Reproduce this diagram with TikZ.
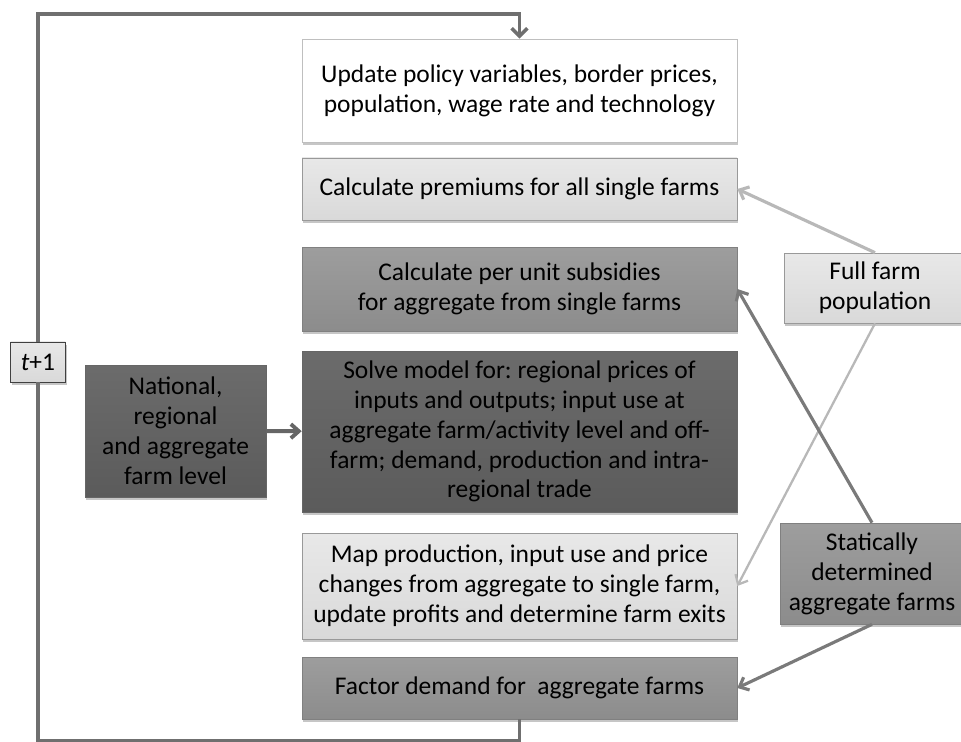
\documentclass[tikz,border=0pt]{standalone}
\usepackage{fontspec}
\setmainfont{Carlito}
\usepackage {tikz}
\usetikzlibrary {arrows.meta,shadows}
\frenchspacing

\definecolor{palegrey}{HTML}{D9D9D9}
\definecolor{midgrey}{HTML}{8C8C8C}
\definecolor{deepgrey}{HTML}{5B5B5B}
\definecolor{loopgrey}{HTML}{6F6F6F}
\definecolor{thingrey}{HTML}{B8B8B8}

\begin{document}
\begin{tikzpicture}[x=0.02cm ,y=-0.02cm ,
    font=\fontsize{14.5}{17}\selectfont ,
    stage/.style ={ rectangle ,draw=black!40 ,align=center ,inner sep=0pt ,
      minimum width =8.7cm ,
      drop shadow={shadow xshift=0.8pt ,shadow yshift=-1.8pt ,opacity=.45}},
    pale/.style ={ top color=palegrey!60!white ,bottom color=palegrey},
    mid/.style ={ top color=midgrey!85!white ,bottom color=midgrey ,draw=black!50},
    deep/.style ={ top color=deepgrey!90!white ,bottom color=deepgrey ,draw=black!60},
    flow/.style ={ line width=1.8pt ,-{Straight Barb[length=4.5pt,width=8pt]}},
    feedback/.style ={ loopgrey ,line width=2pt}
    ]

\useasboundingbox (0,0) rectangle (961,742);

% main sequence of steps
\node[stage ,fill=white ,draw=black!25 ,minimum height=2.06cm] (U) at (519.5,90.5)
  {Update policy variables, border prices,\\ population, wage rate and technology};
\node[stage ,pale ,minimum height=1.24cm] (P) at (519.5,189)
  {Calculate premiums for all single farms};
\node[stage ,mid ,minimum height=1.68cm] (S) at (519.5,289)
  {Calculate per unit subsidies\\ for aggregate from single farms};
\node[stage ,deep ,minimum height=3.22cm] (M) at (519.5,431.5)
  {Solve model for: regional prices of\\ inputs and outputs; input use at\\
   aggregate farm/activity level and off-\\ farm; demand, production and intra-\\
   regional trade};
\node[stage ,pale ,minimum height=2.12cm] (R) at (519.5,586)
  {Map production, input use and price\\ changes from aggregate to single farm,\\
   update profits and determine farm exits};
\node[stage ,mid ,minimum height=1.24cm] (F) at (519.5,688)
  {Factor demand for \ aggregate farms};

% side boxes
\node[stage ,deep ,minimum width=3.62cm ,minimum height=2.64cm] (N) at (175.5,431)
  {National,\\ regional\\ and aggregate\\ farm level};
\node[stage ,pale ,minimum width=3.64cm ,minimum height=1.4cm] (A) at (875,288)
  {Full farm\\ population};
\node[stage ,mid ,minimum width=3.68cm ,minimum height=2.02cm] (D) at (872,573.5)
  {Statically\\ determined\\ aggregate farms};

% yearly loop
\node[stage ,pale ,draw=black!75 ,minimum width=1.1cm ,minimum height=0.8cm] (T) at (38,362)
  {\textit{t}+1};
\coordinate (low) at (519.5,740.5);
\coordinate (top) at (38,14);
\draw[feedback] (F.south) -- (low) -| (T.south);
\draw[feedback ,-{Straight Barb[length=4.5pt,width=9pt]}] (T.north) -- (top) -| (U.north);

% links between boxes
\draw[flow ,black!60 ,line width=2.2pt] (N) -- (M);
\draw[flow ,thingrey] (A.north) -- (P.east);
\draw[flow ,thingrey ,line width=1.3pt] (A.south) -- (R.east);
\draw[flow ,black!52] (D.north) -- (S.east);
\draw[flow ,black!52] (D.south) -- (F.east);
\end{tikzpicture}
\end{document}
